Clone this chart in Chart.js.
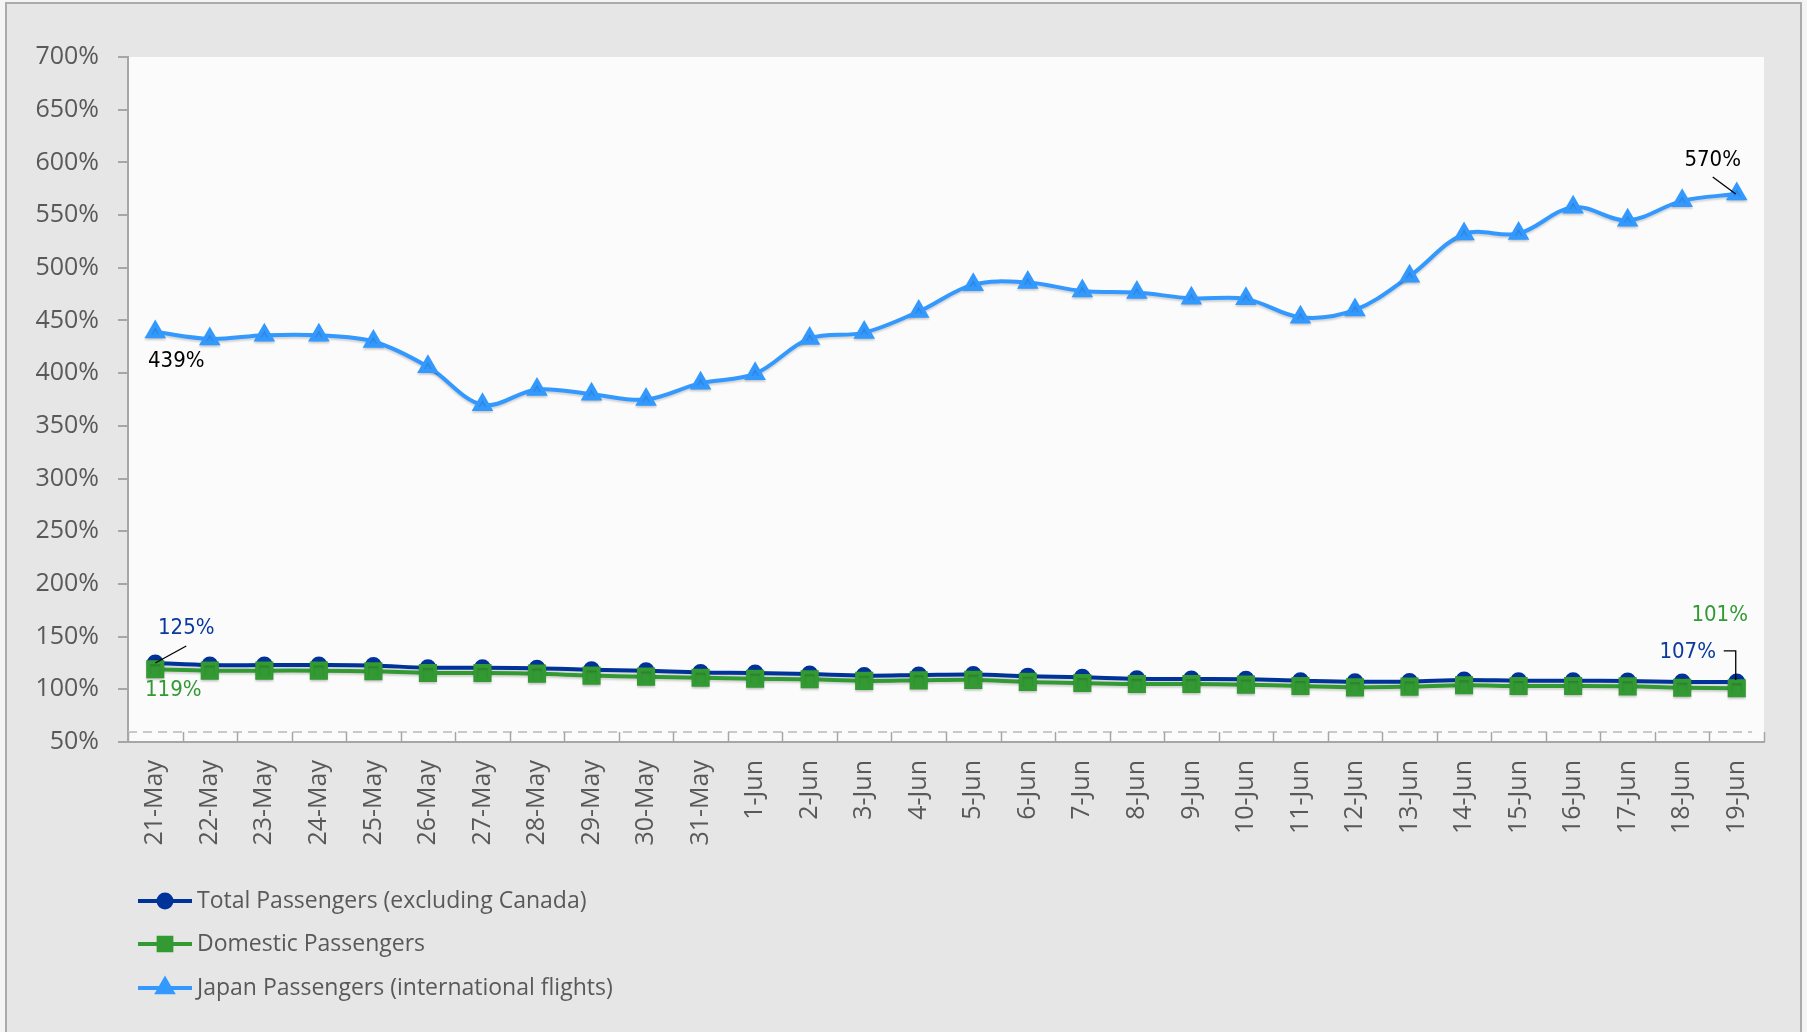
<!DOCTYPE html>
<html><head><meta charset="utf-8">
<script src="https://cdn.jsdelivr.net/npm/chart.js@4/dist/chart.umd.min.js"></script>
<style>
html,body{margin:0;padding:0;background:#f4f4f4;overflow:hidden;width:1807px;height:1032px}
#frame{position:absolute;left:5px;top:2px;width:1797px;height:1100px;border:2px solid #ababab;background:#e6e6e6;box-sizing:border-box}
#wrap{position:absolute;left:0;top:0;width:1807px;height:1032px}
</style></head><body>
<div id="frame"></div>
<div id="wrap"><canvas id="c" width="1807" height="1032"></canvas></div>
<script>
const categories = ['21-May','22-May','23-May','24-May','25-May','26-May','27-May','28-May','29-May','30-May','31-May',
  '1-Jun','2-Jun','3-Jun','4-Jun','5-Jun','6-Jun','7-Jun','8-Jun','9-Jun','10-Jun','11-Jun','12-Jun','13-Jun','14-Jun','15-Jun','16-Jun','17-Jun','18-Jun','19-Jun'];
const totalPassengers = [125,123,123,123,122.5,120.5,120.5,120,118.5,117.5,116,115.5,114.5,113,113.5,114,112.5,111.5,110,109.7,109.5,108.2,107.2,107.5,108.8,108.2,108.2,107.9,107,107];
const domesticPassengers = [119,117.7,117.7,117.7,117.1,115.5,115.5,114.9,113,112,111,110,109.5,108,108.5,109,107,106,105,105,104.4,103.1,101.9,102.5,103.8,103.1,103.1,102.8,101.5,101];
const japanPassengers = [439,432.5,436,436,430,406,370,384.5,380,375,390.5,399.5,433,438.5,458.5,484,486,478,476.5,471,470.5,453,460,492,532,532.5,557.5,545,563.5,570];
const yTickValues = [50,100,150,200,250,300,350,400,450,500,550,600,650,700];
const referenceLineValue = 59.5;
const seriesNames = ['Total Passengers (excluding Canada)','Domestic Passengers','Japan Passengers (international flights)'];

const LABEL_FONT = '22px "Liberation Sans Narrow", "DejaVu Sans Condensed", "Noto Sans", sans-serif';
const annotations = [
  {ds:2, idx:0,  text:'439%', color:'#000000', dx:21,  dy:29},
  {ds:2, idx:29, text:'570%', color:'#000000', dx:-24, dy:-34, leader:[[-24,-17],[-1,0]]},
  {ds:0, idx:0,  text:'125%', color:'#0a3a9e', dx:31,  dy:-35, leader:[[31,-17],[0,0]]},
  {ds:1, idx:0,  text:'119%', color:'#339933', dx:18,  dy:21},
  {ds:0, idx:29, text:'107%', color:'#0a3a9e', dx:-49, dy:-30, leader:[[-13,-31],[-1,-31],[-1,-2]]},
  {ds:1, idx:29, text:'101%', color:'#339933', dx:-17, dy:-73}
];

const bgPlugin = {
  id:'bg',
  beforeDraw(chart){
    const {ctx, chartArea:a} = chart;
    ctx.save(); ctx.fillStyle = '#fbfbfb';
    ctx.fillRect(a.left, a.top, a.right - a.left, a.bottom - a.top);
    ctx.restore();
  },
  beforeDatasetsDraw(chart){
    const {ctx, chartArea:a, scales} = chart;
    const y = scales.y.getPixelForValue(referenceLineValue);
    ctx.save();
    ctx.strokeStyle = '#c9c9c9'; ctx.lineWidth = 2; ctx.setLineDash([9,6]);
    ctx.beginPath(); ctx.moveTo(a.left, y); ctx.lineTo(a.right - 12, y); ctx.stroke();
    ctx.setLineDash([]);
    ctx.strokeStyle = '#a6a6a6'; ctx.lineWidth = 1.5;
    for (let i = 0; i <= categories.length; i++) {
      const x = Math.round(scales.x.getPixelForValue(i - 0.5)) + 0.5;
      ctx.beginPath(); ctx.moveTo(x, a.bottom); ctx.lineTo(x, a.bottom - 10); ctx.stroke();
    }
    ctx.restore();
  },
  beforeDatasetDraw(chart){
    const ctx = chart.ctx; ctx.save();
    ctx.shadowColor = 'rgba(0,0,0,0.16)'; ctx.shadowBlur = 2; ctx.shadowOffsetY = 2;
  },
  afterDatasetDraw(chart){ chart.ctx.restore(); },
  afterDraw(chart){
    const ctx = chart.ctx;
    ctx.save();
    ctx.font = LABEL_FONT; ctx.textAlign = 'center'; ctx.textBaseline = 'middle';
    annotations.forEach(a => {
      const pt = chart.getDatasetMeta(a.ds).data[a.idx];
      ctx.fillStyle = a.color;
      ctx.fillText(a.text, pt.x + a.dx, pt.y + a.dy);
      if (a.leader) {
        ctx.strokeStyle = '#000'; ctx.lineWidth = 1.3;
        ctx.beginPath();
        a.leader.forEach((p, k) => { k ? ctx.lineTo(pt.x + p[0], pt.y + p[1]) : ctx.moveTo(pt.x + p[0], pt.y + p[1]); });
        ctx.stroke();
      }
    });
    const rows = [901, 944, 988];
    chart.data.datasets.forEach((ds, i) => {
      const y = rows[i];
      ctx.strokeStyle = ds.borderColor; ctx.lineWidth = 4;
      ctx.beginPath(); ctx.moveTo(138, y); ctx.lineTo(192, y); ctx.stroke();
      ctx.fillStyle = ds.pointBackgroundColor; ctx.strokeStyle = ds.pointBorderColor;
      Chart.helpers.drawPoint(ctx, {pointStyle: ds.pointStyle, radius: ds.legendRadius, rotation: 0, borderWidth: 1}, 165, y);
      ctx.fillStyle = '#595959'; ctx.font = '23px "Open Sans", sans-serif';
      ctx.textAlign = 'left'; ctx.textBaseline = 'middle';
      ctx.fillText(ds.label, 197, y);
    });
    ctx.restore();
  }
};

new Chart(document.getElementById('c'), {
  type: 'line',
  data: {
    labels: categories,
    datasets: [
      {label: seriesNames[0], data: totalPassengers, borderColor:'#003399', backgroundColor:'#003399',
       pointBackgroundColor:'#003399', pointBorderColor:'#003399', pointStyle:'circle', pointRadius:6.5, legendRadius:6.5,
       borderWidth:4, tension:0.35, order:3},
      {label: seriesNames[1], data: domesticPassengers, borderColor:'#339933', backgroundColor:'#339933',
       pointBackgroundColor:'#339933', pointBorderColor:'#339933', pointStyle:'rect', pointRadius:10, legendRadius:9,
       borderWidth:4, tension:0.35, order:2},
      {label: seriesNames[2], data: japanPassengers, borderColor:'#3399ff', backgroundColor:'#3399ff',
       pointBackgroundColor:'#3399ff', pointBorderColor:'#3399ff', pointStyle:'triangle', pointRadius:8.5, legendRadius:8.5,
       borderWidth:4, tension:0.35, order:1}
    ]
  },
  options: {
    responsive:false, animation:false, devicePixelRatio:1,
    layout:{padding:{left:0, right:43, top:57, bottom:140}},
    plugins:{legend:{display:false}, tooltip:{enabled:false}},
    scales:{
      x:{type:'category', offset:true,
        grid:{display:true, drawOnChartArea:false, drawTicks:false, offset:true},
        border:{display:true, color:'#a6a6a6', width:2},
        ticks:{color:'#595959', font:{family:'"Open Sans", sans-serif', size:25}, minRotation:90, maxRotation:90, padding:18, autoSkip:false},
        afterFit(s){ s.height = 150; }
      },
      y:{min:50, max:700,
        afterBuildTicks(s){ s.ticks = yTickValues.map(v => ({value:v})); },
        ticks:{color:'#595959', font:{family:'"Open Sans", sans-serif', size:25}, padding:19, callback:v => v + '%'},
        grid:{drawOnChartArea:false, drawTicks:true, tickLength:10, color:'#a6a6a6', lineWidth:2},
        border:{display:true, color:'#a6a6a6', width:2},
        afterFit(s){ s.width = 128; }
      }
    }
  },
  plugins:[bgPlugin]
});
</script>
</body></html>
